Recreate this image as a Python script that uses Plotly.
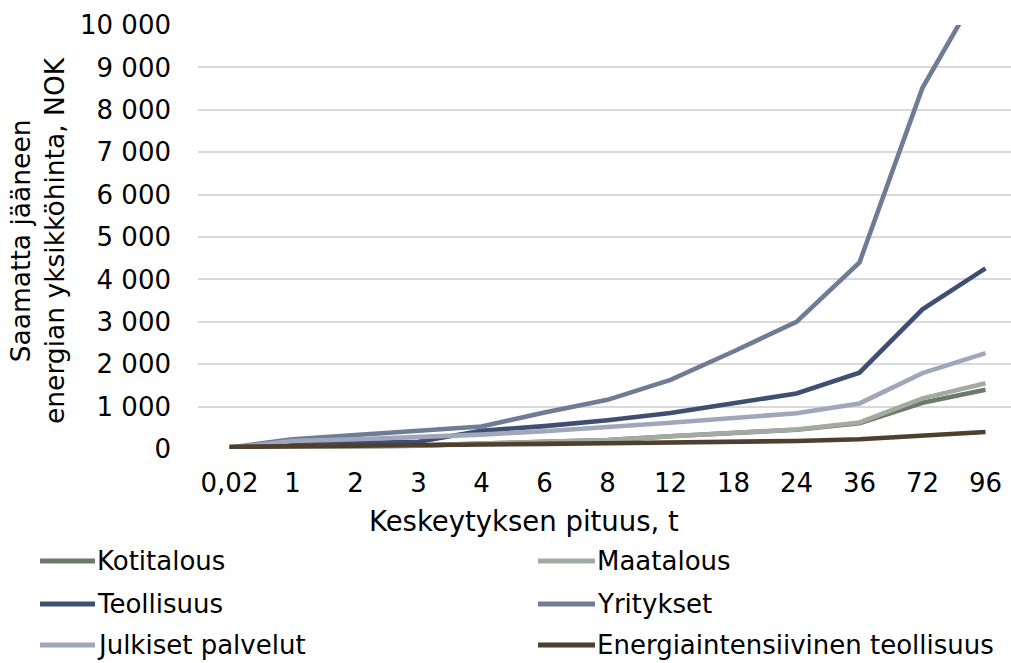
import plotly.graph_objects as go

# Outage duration categories (hours)
durations = ["0,02", "1", "2", "3", "4", "6", "8", "12", "18", "24", "36", "72", "96"]

# Unit cost of undelivered energy per customer group, NOK
kotitalous = [30, 50, 60, 80, 130, 170, 210, 300, 380, 455, 605, 1090, 1400]
maatalous = [30, 50, 60, 80, 130, 170, 210, 300, 385, 460, 625, 1195, 1550]
teollisuus = [30, 120, 140, 170, 430, 540, 680, 850, 1080, 1310, 1800, 3295, 4260]
yritykset = [30, 230, 330, 430, 530, 860, 1160, 1630, 2300, 3000, 4400, 8520, 11100]
julkiset = [20, 190, 230, 280, 340, 420, 510, 620, 730, 845, 1075, 1790, 2260]
energiaint = [50, 60, 65, 75, 100, 120, 135, 145, 165, 190, 230, 325, 400]

series_names = [
    "Kotitalous", "Maatalous", "Teollisuus",
    "Yritykset", "Julkiset palvelut", "Energiaintensiivinen teollisuus",
]
series_values = [kotitalous, maatalous, teollisuus, yritykset, julkiset, energiaint]
series_colors = ["#6b7a69", "#a3aa9f", "#3f4f72", "#6f7c95", "#a0a7ba", "#4f3f2e"]

y_ticks = list(range(0, 10001, 1000))

FONT = "DejaVu Sans"
FS_TICK = 26
FS_LEGEND = 26
FS_XTITLE = 27.5
FS_YTITLE = 26.5
W, H = 1011, 663
ML, MR, MT, MB = 198, 0, 25, 214
PW, PH = W - ML - MR, H - MT - MB


def px_x(p):
    return (p - ML) / PW


def px_y(p):
    return (H - MB - p) / PH


fig = go.Figure()
for name, vals, col in zip(series_names, series_values, series_colors):
    fig.add_trace(go.Scatter(
        x=list(range(len(durations))), y=vals, name=name, mode="lines",
        line=dict(color=col, width=4.6), showlegend=False,
    ))

fig.update_layout(
    width=W, height=H,
    margin=dict(l=ML, r=MR, t=MT, b=MB),
    paper_bgcolor="white", plot_bgcolor="white",
    separators=", ",
    font=dict(family=FONT, size=FS_TICK, color="#000000"),
    xaxis=dict(
        tickmode="array", tickvals=list(range(len(durations))), ticktext=durations,
        range=[-0.5, 12.405], showgrid=False, zeroline=False, showline=False,
        ticks="", ticklabelstandoff=16,
        tickfont=dict(family=FONT, size=FS_TICK),
    ),
    yaxis=dict(
        range=[0, 10000], tickvals=y_ticks, tickformat=",d",
        showgrid=True, gridcolor="#d9d9d9", gridwidth=2,
        zeroline=False, showline=False, ticks="", ticklabelstandoff=26,
        tickfont=dict(family=FONT, size=FS_TICK),
    ),
)

# Axis titles
fig.add_annotation(
    text="Keskeytyksen pituus, t", xref="paper", yref="paper",
    x=px_x(524), y=px_y(521), showarrow=False,
    xanchor="center", yanchor="middle", font=dict(family=FONT, size=FS_XTITLE),
)
fig.add_annotation(
    text="Saamatta jääneen<br>energian yksikköhinta, NOK", xref="paper", yref="paper",
    x=px_x(37), y=px_y(241), showarrow=False, textangle=-90,
    xanchor="center", yanchor="middle", font=dict(family=FONT, size=FS_YTITLE),
)

# Legend drawn as two columns of line swatches with labels
rows_y = [561, 604, 645]
cols_x = [(40, 95, 96), (538, 595, 596)]
for i, (name, col) in enumerate(zip(series_names, series_colors)):
    r, c = divmod(i, 2)
    x0, x1, tx = cols_x[c]
    yy = px_y(rows_y[r])
    fig.add_shape(
        type="line", xref="paper", yref="paper",
        x0=px_x(x0), x1=px_x(x1), y0=yy, y1=yy,
        line=dict(color=col, width=5),
    )
    fig.add_annotation(
        text=name, xref="paper", yref="paper", x=px_x(tx), y=yy,
        showarrow=False, xanchor="left", yanchor="middle",
        font=dict(family=FONT, size=FS_LEGEND), borderpad=0,
    )

fig.write_html("out.html")
